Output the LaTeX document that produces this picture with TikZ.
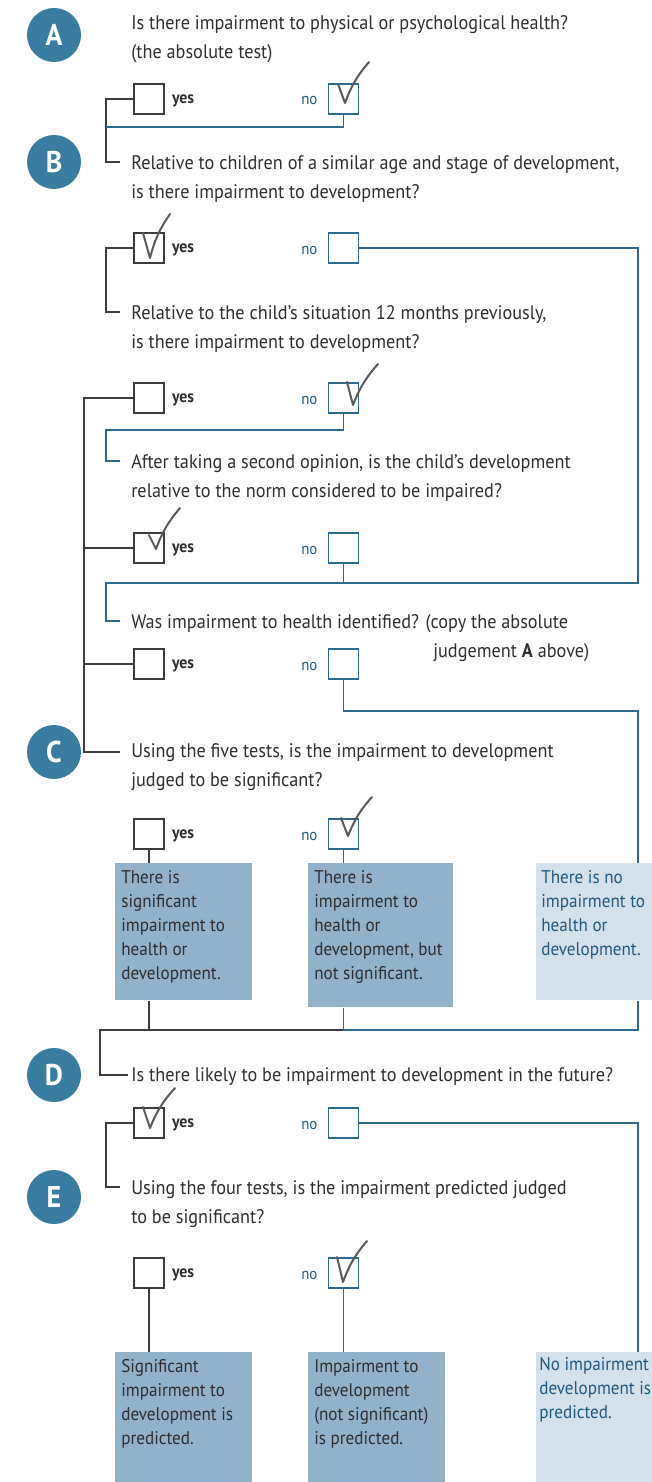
\documentclass[tikz,border=0pt]{standalone}
\usepackage{fontspec}
\setmainfont{PT Sans}[FakeStretch=0.93]
\usetikzlibrary{positioning}

\definecolor{circblue}{HTML}{3A7CA0}
\definecolor{noblue}{HTML}{2F6A8C}
\definecolor{nolbl}{HTML}{1F5A80}
\definecolor{darkgrey}{HTML}{3C3C3C}
\definecolor{tickgrey}{HTML}{5A5A5A}
\definecolor{boxmid}{HTML}{92B2CA}
\definecolor{boxlight}{HTML}{D4E0EA}
\definecolor{txtgrey}{HTML}{2E2E2E}

\newcommand{\checkit}[3]{\draw[tickline] #1 -- #2 to[bend left=10] #3;}

\begin{document}
\begin{tikzpicture}[x=1pt,y=-1pt,semithick]
\tikzstyle{letter}=[circle,fill=circblue,minimum size=54pt,inner sep=0pt,text=white,font=\bfseries\fontsize{30}{30}\selectfont]
\tikzstyle{question}=[anchor=west,align=left,inner sep=0pt,text=txtgrey,font=\fontsize{19.6}{29}\selectfont]
\tikzstyle{yesbox}=[draw=darkgrey,line width=1.4pt,minimum size=30pt,inner sep=0pt,
  label={[inner sep=0pt,label distance=7pt,yshift=-2pt,text=txtgrey,font=\bfseries\fontsize{17}{17}\selectfont]right:yes}]
\tikzstyle{nobox}=[draw=noblue,line width=1.4pt,minimum size=30pt,inner sep=0pt,
  label={[inner sep=0pt,label distance=10pt,yshift=-2pt,text=nolbl,font=\fontsize{16}{16}\selectfont]left:no}]
\tikzstyle{outbox}=[anchor=north west,inner xsep=6pt,inner ysep=7pt,text=txtgrey,font=\fontsize{18.4}{24}\selectfont]
\tikzstyle{yesline}=[draw=darkgrey,line width=1.3pt]
\tikzstyle{noline}=[draw=noblue,line width=1.3pt]
\tikzstyle{tickline}=[draw=tickgrey,line width=2pt,line cap=round,line join=round]
\useasboundingbox (0,0) rectangle (652,1482);

% step letters
\node[letter] (A) at (54,35) {A};
\node[letter] (B) at (54,162) {B};
\node[letter] (C) at (54,752) {C};
\node[letter] (D) at (54,1075) {D};
\node[letter] (E) at (54,1197) {E};

% questions
\node[question] (qA) at (131,39) {Is there impairment to physical or psychological health?\\(the absolute test)};
\node[question] (qB1) at (131,179) {Relative to children of a similar age and stage of development,\\is there impairment to development?};
\node[question] (qB2) at (131,329) {Relative to the child's situation 12 months previously,\\is there impairment to development?};
\node[question] (qB3) at (131,478) {After taking a second opinion, is the child's development\\relative to the norm considered to be impaired?};
\node[question] (qB4) at (131,638) {Was impairment to health identified? (copy the absolute\\\hspace*{302pt}judgement \textbf{A} above)};
\node[question] (qC) at (131,767) {Using the five tests, is the impairment to development\\judged to be significant?};
\node[question] (qD) at (131,1077) {Is there likely to be impairment to development in the future?};
\node[question] (qE) at (131,1204) {Using the four tests, is the impairment predicted judged\\to be significant?};

\coordinate (tB1) at (120,162);
\coordinate (tB2) at (120,312);
\coordinate (tB3) at (120,461);
\coordinate (tB4) at (120,621);
\coordinate (tC) at (120,752);
\coordinate (tD) at (128,1075);
\coordinate (tE) at (120,1187);

% answer boxes
\node[yesbox] (yA) at (149,99) {};
\node[nobox,right=163pt of yA] (nA) {};
\node[yesbox] (yB1) at (149,248) {};
\node[nobox,right=163pt of yB1] (nB1) {};
\node[yesbox] (yB2) at (149,398) {};
\node[nobox,right=163pt of yB2] (nB2) {};
\node[yesbox] (yB3) at (149,548) {};
\node[nobox,right=163pt of yB3] (nB3) {};
\node[yesbox] (yB4) at (149,664) {};
\node[nobox,right=163pt of yB4] (nB4) {};
\node[yesbox] (yC) at (149,834) {};
\node[nobox,right=163pt of yC] (nC) {};
\node[yesbox] (yD) at (149,1123) {};
\node[nobox,right=163pt of yD] (nD) {};
\node[yesbox] (yE) at (149,1273) {};
\node[nobox,right=163pt of yE] (nE) {};

% outcomes
\node[outbox,fill=boxmid] (rC1) at (115,863) {\parbox[t][123pt][t]{125pt}{There is\\significant\\impairment to\\health or\\development.}};
\node[outbox,fill=boxmid] (rC2) at (308,863) {\parbox[t][130pt][t]{133pt}{There is\\impairment to\\health or\\development, but\\not significant.}};
\node[outbox,fill=boxlight,text=nolbl,inner xsep=5pt] (rC3) at (536,863) {\parbox[t][123pt][t]{120pt}{There is no\\impairment to\\health or\\development.}};
\node[outbox,fill=boxmid] (rE1) at (115,1352) {\parbox[t][126pt][t]{125pt}{Significant\\impairment to\\development is\\predicted.}};
\node[outbox,fill=boxmid] (rE2) at (308,1352) {\parbox[t][126pt][t]{125pt}{Impairment to\\development\\(not significant)\\is predicted.}};
\node[outbox,fill=boxlight,text=nolbl,inner xsep=3pt,inner ysep=5pt] (rE3) at (536,1352) {\parbox[t][130pt][t]{124pt}{\mbox{No impairment to}\\development is\\predicted.}};

\coordinate (xR) at (638,0);
\coordinate (jA) at (106,127);
\coordinate (jB2) at (106,430);
\coordinate (jB3) at (638,583);
\coordinate (kB4) at (106,583);
\coordinate (jB4) at (638,711);
\coordinate (kC) at (84,752);
\coordinate (kD) at (100,1030);

% A
\draw[yesline] (yA.west) -| ([xshift=-14pt]tB1) -- (tB1);
\draw[noline] (nA.south) |- (jA);
% B
\draw[yesline] (yB1.west) -| ([xshift=-14pt]tB2) -- (tB2);
\draw[noline] (nB1.east) -| (jB3) -- (kB4) |- (tB4);
\draw[yesline] (yB2.west) -| (kC) -- (tC);
\draw[noline] (nB2.south) |- (jB2) |- (tB3);
\draw[yesline] (yB3.west) -- (yB3.west -| kC);
\draw[noline] (nB3.south) -- (nB3.south |- jB3);
\draw[yesline] (yB4.west) -- (yB4.west -| kC);
\draw[noline] (nB4.south) |- (jB4) -- (rC3.north -| jB4);
% C
\draw[yesline] (yC.south) -- (yC.south |- rC1.north);
\draw[noline] (nC.south) -- (nC.south |- rC2.north);
\draw[yesline] (yC |- rC1.south) -- (yC |- kD);
\draw[yesline] (nC |- kD) -- (kD) |- (tD);
\draw[noline] (nC |- rC2.south) -- (nC |- kD) -| (rC3.south -| xR);
% D
\draw[yesline] (yD.west) -| ([xshift=-14pt]tE) -- (tE);
\draw[noline] (nD.east) -| (rE3.north -| xR);
% E
\draw[yesline] (yE.south) -- (yE.south |- rE1.north);
\draw[noline] (nE.south) -- (nE.south |- rE2.north);

% ticks
\checkit{(338,84)}{(345,103)}{(369,62)}
\checkit{(143,233)}{(150,258)}{(170,214)}
\checkit{(347,382)}{(353,405)}{(378,364)}
\checkit{(149,535)}{(156,549)}{(180,508)}
\checkit{(341,818)}{(348,836)}{(372,797)}
\checkit{(143,1107)}{(150,1128)}{(175,1088)}
\checkit{(337,1257)}{(343,1282)}{(367,1241)}
\end{tikzpicture}
\end{document}
